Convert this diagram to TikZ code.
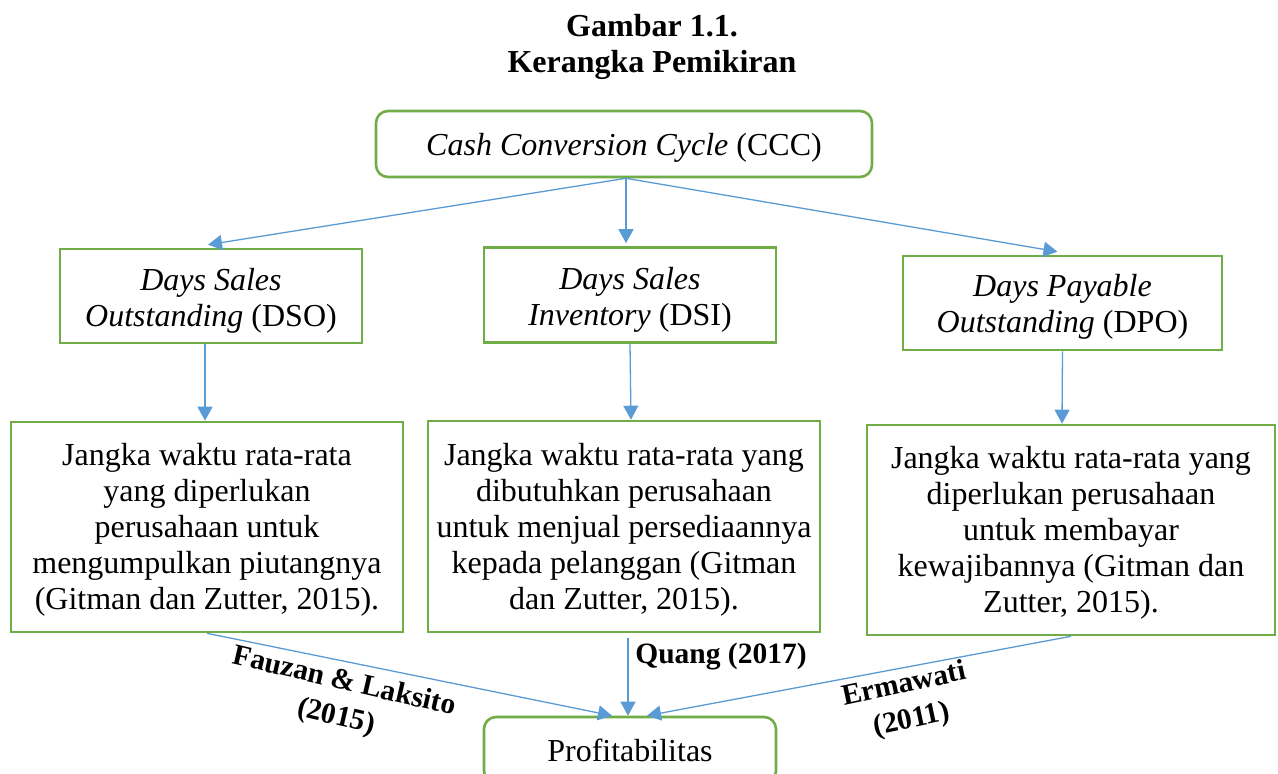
\documentclass[tikz,border=0pt]{standalone}
\usepackage{fontspec}
\setmainfont{Liberation Serif}
\usetikzlibrary{arrows.meta,calc}
\definecolor{boxgreen}{HTML}{70AD47}
\definecolor{arrblue}{HTML}{5B9BD5}
\begin{document}
\begin{tikzpicture}[x=1pt,y=-1pt,
  txt/.style={inner sep=0pt,align=center,font=\fontsize{32}{36}\selectfont},
  box/.style={txt,draw=boxgreen,line width=2.6pt},
  rbox/.style={box,rounded corners=12pt},
  conn/.style={draw=arrblue,line width=1.3pt,-{Triangle[length=14pt,width=15pt]}},
  lbl/.style={font=\bfseries\fontsize{29.5}{36}\selectfont,align=center,inner sep=0pt}]
\useasboundingbox (0,0) rectangle (1278,774);
\node[font=\bfseries\fontsize{32}{36}\selectfont,align=center,inner sep=0pt] (title) at (652,47) {Gambar 1.1.\\Kerangka Pemikiran};
\node[rbox,minimum width=496pt,minimum height=66pt] (ccc) at (624,144) {};
\node[txt] (ccct) at ($(ccc.center)+(0,4)$) {\textit{Cash Conversion Cycle} (CCC)};
\node[box,minimum width=302pt,minimum height=94pt] (dso) at (211,296) {};
\node[txt] (dsot) at ($(dso.center)+(0,5)$) {\textit{Days Sales}\\\textit{Outstanding} (DSO)};
\node[box,minimum width=292pt,minimum height=95pt] (dsi) at (630,295) {};
\node[txt] (dsit) at ($(dsi.center)+(0,5)$) {\textit{Days Sales}\\\textit{Inventory} (DSI)};
\node[box,minimum width=319pt,minimum height=94pt] (dpo) at (1062.5,303) {};
\node[txt] (dpot) at ($(dpo.center)+(0,4)$) {\textit{Days Payable}\\\textit{Outstanding} (DPO)};
\node[box,minimum width=392pt,minimum height=210pt] (d1) at (207,527) {};
\node[txt] (d1t) at ($(d1.center)+(0,3)$) {Jangka waktu rata-rata\\yang diperlukan\\perusahaan untuk\\mengumpulkan piutangnya\\(Gitman dan Zutter, 2015).};
\node[box,minimum width=392pt,minimum height=211pt] (d2) at (624,526.5) {};
\node[txt] (d2t) at ($(d2.center)+(0,3)$) {Jangka waktu rata-rata yang\\dibutuhkan perusahaan\\untuk menjual persediaannya\\kepada pelanggan (Gitman\\dan Zutter, 2015).};
\node[box,minimum width=408pt,minimum height=210pt] (d3) at (1071,530) {};
\node[txt] (d3t) at ($(d3.center)+(0,3)$) {Jangka waktu rata-rata yang\\diperlukan perusahaan\\untuk membayar\\kewajibannya (Gitman dan\\Zutter, 2015).};
\node[rbox,minimum width=292pt,minimum height=66pt] (prof) at (630,750) {Profitabilitas};
\coordinate (cccs) at ($(ccc.south)+(2,0)$);
\draw[conn] (cccs) -- ($(dso.north)+(-3,-3)$);
\draw[conn] (cccs) -- ($(dsi.north)+(-4,-3)$);
\draw[conn] (cccs) -- ($(dpo.north)+(-5,-3)$);
\draw[conn] ($(dso.south)+(-6,0)$) -- ($(d1.north)+(-2,0)$);
\draw[conn] (dsi.south) -- ($(d2.north)+(7,0)$);
\draw[conn] (dpo.south) -- ($(d3.north)+(-9,0)$);
\draw[conn] (d1.south) -- ($(prof.north)+(-18,0)$);
\draw[conn] ($(d2.south)+(4,5)$) -- ($(prof.north)+(-2,0)$);
\draw[conn] (d3.south) -- ($(prof.north)+(17,0)$);
\node[lbl,rotate=-13] (l1) at (340,700) {Fauzan \& Laksito\\(2015)};
\node[lbl] (l2) at (721,657) {Quang (2017)};
\node[lbl,rotate=12] (l3) at (908,703) {Ermawati\\(2011)};
\end{tikzpicture}
\end{document}
